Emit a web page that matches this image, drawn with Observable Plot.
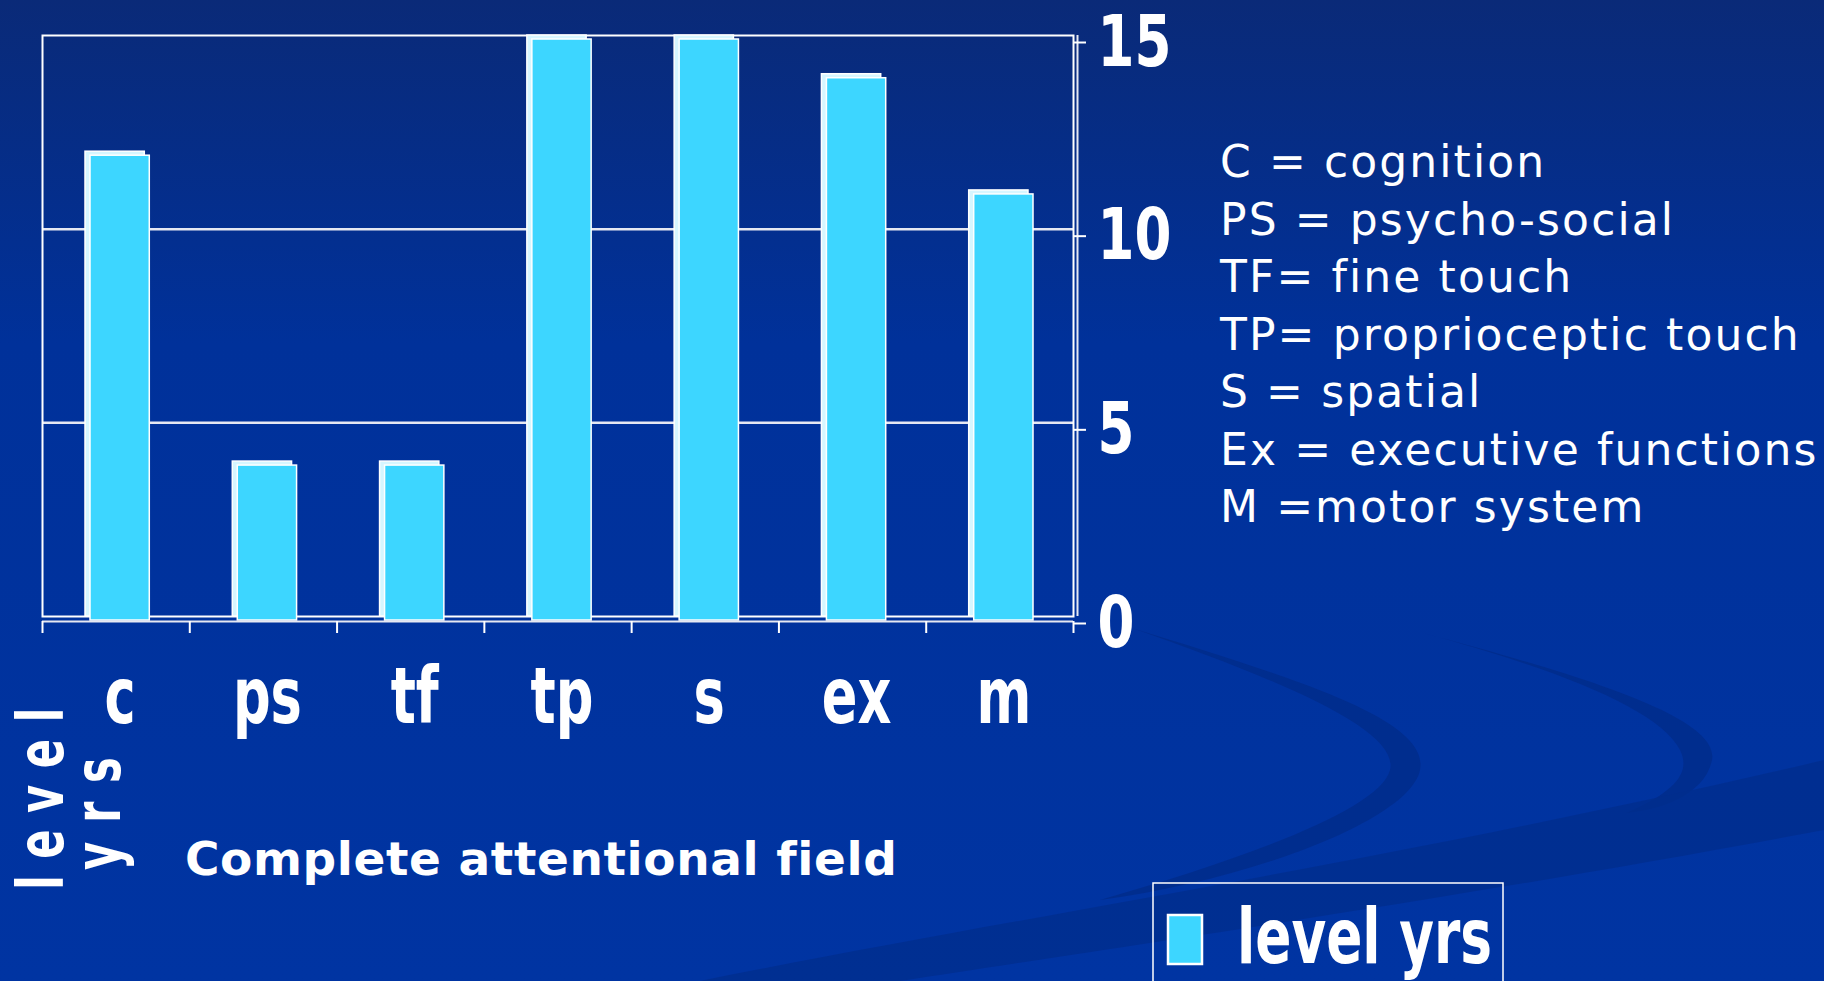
<!DOCTYPE html>
<html>
<head>
<meta charset="utf-8">
<script src="https://cdn.jsdelivr.net/npm/d3@7"></script>
<script src="https://cdn.jsdelivr.net/npm/@observablehq/plot@0.6"></script>
<style>
  html, body { margin: 0; padding: 0; }
  body { width: 1824px; height: 981px; overflow: hidden; }
  #slide {
    position: relative; width: 1824px; height: 981px; overflow: hidden;
    background: linear-gradient(to bottom, #0a2a78 0%, #00319a 35%, #0034a2 100%);
  }
  #deco, #chart, #overlay { position: absolute; left: 0; top: 0; }
  #chart svg { overflow: visible; }
</style>
</head>
<body>
<div id="slide">
  <svg id="deco" width="1824" height="981"></svg>
  <div id="chart"></div>
  <svg id="overlay" width="1824" height="981"></svg>
</div>
<script>
// ---- data ----
const categories = ["c", "ps", "tf", "tp", "s", "ex", "m"];
const levelYrs = [12, 4, 4, 15, 15, 14, 11];
const yTicks = [0, 5, 10, 15];
const gridValues = [5, 10];
const definitions = [
  "C = cognition",
  "PS = psycho-social",
  "TF= fine touch",
  "TP= proprioceptic touch",
  "S = spatial",
  "Ex = executive functions",
  "M =motor system"
];
const seriesName = "level yrs";
const axisTitle = ["level", "yrs"];
const xTitle = "Complete attentional field";

const data = categories.map((c, i) => ({cat: c, i, value: levelYrs[i]}));
const bounds = d3.range(categories.length + 1);

const CYAN = "#3dd6ff";
const NARROW = "'Liberation Sans Narrow', 'DejaVu Sans Condensed', sans-serif";

// horizontally squeeze text elements (narrow bold face); y offsets are kept as they are
function squeeze(selection, s) {
  selection.each(function () {
    let t = this.getAttribute("transform") || "";
    const x = this.getAttribute("x");
    if (x !== null && isFinite(+x)) {
      t += ` translate(${+x},0)`;
      this.removeAttribute("x");
    }
    this.setAttribute("transform", `${t} scale(${s},1)`);
  });
}

// ---- background decoration (swooshes) ----
const deco = d3.select("#deco");
deco.append("path")
  .attr("d", "M1132,628 C1300,680 1430,720 1420,770 C1410,820 1250,880 1100,900 C1240,860 1380,810 1390,770 C1400,730 1280,680 1132,628 Z")
  .attr("fill", "#002c8a").attr("opacity", 0.8);
deco.append("path")
  .attr("d", "M1423,633 C1600,680 1720,720 1712,760 C1705,795 1660,810 1626,813 C1680,790 1690,770 1680,750 C1660,710 1560,670 1423,633 Z")
  .attr("fill", "#002c8a").attr("opacity", 0.8);
deco.append("path")
  .attr("d", "M700,981 C1000,920 1400,860 1824,760 L1824,830 C1450,900 1100,950 900,981 Z")
  .attr("fill", "#002d8c").attr("opacity", 0.75);

// ---- chart ----
const chart = Plot.plot({
  width: 1824,
  height: 981,
  marginLeft: 42,
  marginRight: 751,
  marginTop: 35,
  marginBottom: 365,
  style: {background: "transparent", color: "white", overflow: "visible"},
  x: {domain: [0, categories.length], axis: null},
  y: {domain: [0, 15], axis: null},
  marks: [
    Plot.ruleY(gridValues, {stroke: "#e6e8f2", strokeWidth: 2.5}),
    Plot.frame({stroke: "white", strokeWidth: 2}),
    Plot.ruleY([0], {dy: 5, stroke: "#e6e8f2", strokeWidth: 2}),
    Plot.ruleX([categories.length], {dx: 4, stroke: "#e6e8f2", strokeWidth: 2}),
    Plot.axisX({
      anchor: "bottom", ticks: bounds, tickSize: 12, tickFormat: () => "",
      stroke: "white", strokeWidth: 2, dy: 5, label: null
    }),
    Plot.axisY({
      anchor: "right", ticks: yTicks, tickSize: 12, tickPadding: 12,
      stroke: "white", strokeWidth: 2, label: null,
      fontSize: 72, fontWeight: "bold", fontFamily: NARROW, fill: "white",
      dy: 7
    }),
    // 3D back face of each bar
    Plot.rectY(data, {
      x1: "i", x2: d => d.i + 1, y: "value",
      insetLeft: 43, insetRight: 45,
      fill: "#d6f6ff", stroke: "white", strokeWidth: 1.5
    }),
    // front face
    Plot.rectY(data, {
      x1: "i", x2: d => d.i + 1, y: "value",
      insetLeft: 43, insetRight: 45, dx: 5, dy: 4,
      fill: CYAN, stroke: "white", strokeWidth: 1.5
    }),
    // category labels
    Plot.text(data, {
      x: d => d.i + 0.5, text: "cat", frameAnchor: "bottom", lineAnchor: "bottom",
      dy: 106, dx: 4, fontSize: 78, fontWeight: "bold", fontFamily: NARROW, fill: "white"
    })
  ]
});
document.getElementById("chart").appendChild(chart);
squeeze(d3.select(chart).selectAll("g[aria-label='y-axis tick label'] text"), 0.82);
squeeze(d3.select(chart).selectAll("g[aria-label='text'] text"), 0.75);

// ---- overlay texts ----
const ov = d3.select("#overlay");

// definitions
const defs = ov.append("g")
  .attr("font-family", "'DejaVu Sans', Verdana, sans-serif")
  .attr("font-size", 44).attr("fill", "white")
  .style("letter-spacing", "2.1px");
definitions.forEach((t, k) => {
  defs.append("text").attr("x", 1220).attr("y", 177 + 57.5 * k).text(t);
});

// x title
ov.append("text")
  .attr("x", 185).attr("y", 875)
  .attr("font-family", "'DejaVu Sans', Verdana, sans-serif")
  .attr("font-weight", "bold").attr("font-size", 47).attr("fill", "white")
  .style("letter-spacing", "0.6px")
  .text(xTitle);

// rotated y title (two lines)
const yt = ov.append("g")
  .attr("font-family", NARROW).attr("font-weight", "bold").attr("font-size", 64)
  .attr("fill", "white");
yt.append("text")
  .attr("transform", "translate(63,890) rotate(-90) scale(0.75,1)")
  .style("letter-spacing", "22px")
  .text(axisTitle[0]);
yt.append("text")
  .attr("transform", "translate(120,870) rotate(-90) scale(0.75,1)")
  .style("letter-spacing", "25px")
  .text(axisTitle[1]);

// legend
ov.append("rect")
  .attr("x", 1153).attr("y", 883).attr("width", 350).attr("height", 130)
  .attr("fill", "none").attr("stroke", "white").attr("stroke-width", 1.5);
ov.append("rect")
  .attr("x", 1168).attr("y", 915).attr("width", 34).attr("height", 49)
  .attr("fill", CYAN).attr("stroke", "white").attr("stroke-width", 2.5);
ov.append("text")
  .attr("transform", "translate(1237,963) scale(0.78,1)")
  .attr("font-family", NARROW).attr("font-weight", "bold").attr("font-size", 76)
  .attr("fill", "white")
  .text(seriesName);
</script>
</body>
</html>
